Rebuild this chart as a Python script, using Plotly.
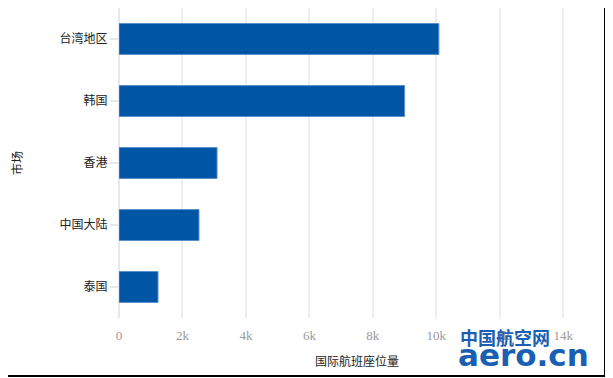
import plotly.graph_objects as go

markets = ["台湾地区", "韩国", "香港", "中国大陆", "泰国"]
seats = [10080, 9000, 3090, 2520, 1230]
x_tickvals = [0, 2000, 4000, 6000, 8000, 10000, 12000, 14000]
x_ticktext = ["0", "2k", "4k", "6k", "8k", "10k", "12k", "14k"]

# page offset of 8px (body margin) compensated: figure coords = page coords - 8
OFF = 8
W, H = 613 - OFF, 378 - OFF
L, R, T, B = 119 - OFF, 595 - OFF, 0, 318 - OFF
PW, PH = R - L, B - T

def px(x):
    return (x - OFF - L) / PW

def py(y):
    return (B - (y - OFF)) / PH

fig = go.Figure(go.Bar(
    x=seats, y=markets, orientation="h",
    marker=dict(color="#0055A5", line=dict(color="#5b8fd0", width=1)),
))

fig.update_layout(
    width=W, height=H,
    margin=dict(l=L, r=W - R, t=T, b=H - B, autoexpand=False),
    paper_bgcolor="white", plot_bgcolor="white",
    bargap=0.5,
    showlegend=False,
    font=dict(family="Noto Sans CJK SC", size=12, color="#222"),
    xaxis=dict(
        range=[0, 15000], tickvals=x_tickvals, ticktext=x_ticktext,
        automargin=False,
        showgrid=True, gridcolor="#eceef4", gridwidth=1.5,
        zeroline=True, zerolinecolor="#e4e8f2", zerolinewidth=2,
        showline=False, ticks="", ticklabelstandoff=8,
        tickfont=dict(family="Liberation Serif", size=13, color="#999"),
        title=dict(text="国际航班座位量", font=dict(family="Noto Sans CJK SC", size=12, color="#222"), standoff=15),
    ),
    yaxis=dict(
        categoryorder="array", categoryarray=markets, autorange="reversed",
        automargin=False,
        showgrid=False, zeroline=False, showline=False,
        ticks="outside", ticklen=8, tickcolor="#e4e8f2", tickwidth=1.5,
        tickfont=dict(family="Noto Sans CJK SC", size=12, color="#222"),
        title=dict(text="市场", font=dict(family="Noto Sans CJK SC", size=12, color="#222"), standoff=36),
    ),
    shapes=[
        dict(type="line", xref="paper", yref="paper", x0=px(605), x1=px(605),
             y0=py(377), y1=py(0), line=dict(color="black", width=2), layer="above"),
        dict(type="line", xref="paper", yref="paper", x0=px(0), x1=px(606),
             y0=py(376), y1=py(376), line=dict(color="black", width=2), layer="above"),
    ],
    annotations=[
        dict(text="<b>中国航空网</b>", xref="paper", yref="paper", x=px(458), y=py(322),
             xanchor="left", yanchor="top", showarrow=False,
             font=dict(family="Noto Sans CJK SC", size=18, color="#1a5fb4")),
        dict(text="<b>aero.cn</b>", xref="paper", yref="paper", x=px(456), y=py(335),
             xanchor="left", yanchor="top", showarrow=False,
             font=dict(family="DejaVu Sans", size=31, color="#1a5fb4")),
    ],
)

fig.write_html("out.html")
